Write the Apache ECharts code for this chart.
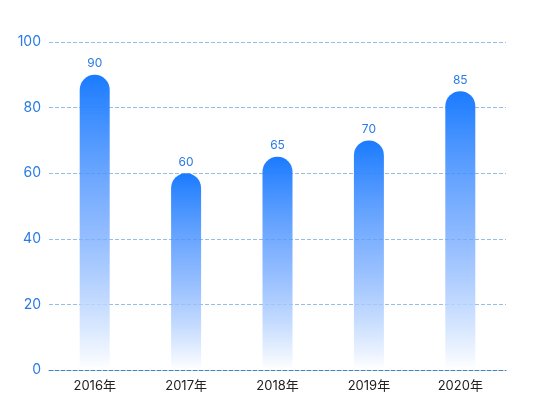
<!DOCTYPE html>
<html>
<head>
<meta charset="utf-8">
<script src="https://cdn.jsdelivr.net/npm/echarts@6/dist/echarts.min.js"></script>
<style>
html, body { margin: 0; padding: 0; background: #fff; }
#chart { width: 550px; height: 420px; }
</style>
</head>
<body>
<div id="chart"></div>
<script>
var years = ['2016年', '2017年', '2018年', '2019年', '2020年'];
var values = [90, 60, 65, 70, 85];

var myChart = echarts.init(document.getElementById('chart'));
var option = {
	animation: false,
	textStyle: { fontFamily: 'Inter, "Noto Sans CJK SC", sans-serif' },
	grid: { left: 49, right: 44, top: 42, bottom: 50 },
	xAxis: {
		type: 'category',
		data: years,
		axisTick: { show: false },
		axisLine: { lineStyle: { color: '#3f86c4', type: 'dashed' } },
		axisLabel: { color: '#222', fontSize: 13, margin: 10 }
	},
	yAxis: {
		type: 'value',
		min: 0,
		max: 100,
		interval: 20,
		axisLine: { show: false },
		axisTick: { show: false },
		axisLabel: { color: '#2a7be4', fontSize: 14, margin: 8 },
		splitLine: { lineStyle: { color: '#93bfe8', type: 'dashed' } }
	},
	series: [{
		type: 'bar',
		data: values,
		barWidth: 30,
		label: {
			show: true,
			position: 'top',
			color: '#2a7be4',
			fontSize: 12,
			distance: 5
		},
		itemStyle: {
			borderRadius: [15, 15, 0, 0],
			color: new echarts.graphic.LinearGradient(0, 0, 0, 1, [
				{ offset: 0, color: '#1a7bff' },
				{ offset: 0.5, color: 'rgba(100,160,255,0.75)' },
				{ offset: 1, color: 'rgba(255,255,255,0.9)' }
			])
		}
	}]
};
myChart.setOption(option);
</script>
</body>
</html>
